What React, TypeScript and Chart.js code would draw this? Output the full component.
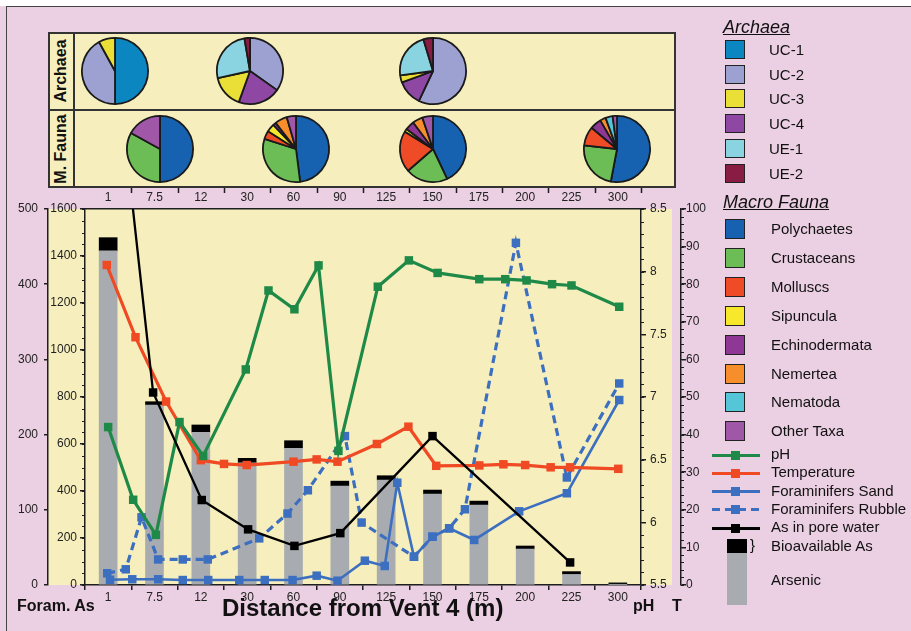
import React, { useEffect, useRef } from 'react';
import { Chart, registerables } from 'chart.js';

Chart.register(...registerables);

// ---------------- data ----------------
const categories = ['1', '7.5', '12', '30', '60', '90', '125', '150', '175', '200', '225', '300'];

// Arsenic in sediment (inner left axis, 0-1600); bioavailable part stacked on top
const arsenicValues = [1422, 766, 650, 520, 582, 421, 447, 387, 340, 153, 45, 2];
const bioavailableAs = [56, 14, 31, 19, 32, 21, 18, 17, 17, 13, 12, 7];

// positions along the distance axis, in category units (category i is centred on i + 0.5)
const phX = [0.5, 1.04, 1.53, 2.04, 2.55, 3.47, 3.96, 4.52, 5.04, 5.47, 6.32, 6.99, 7.61, 8.51, 9.07, 9.53, 10.08, 10.5, 11.53];
const phValues = [6.76, 6.18, 5.9, 6.8, 6.53, 7.22, 7.85, 7.7, 8.05, 6.57, 7.88, 8.09, 7.99, 7.94, 7.94, 7.93, 7.9, 7.89, 7.72];

const tempX = [0.47, 1.09, 1.75, 2.5, 3.0, 3.49, 4.5, 5.0, 5.45, 6.3, 6.98, 7.58, 8.51, 9.03, 9.5, 10.05, 10.47, 11.51];
const tempValues = [85.1, 65.9, 48.8, 33.2, 32.2, 31.9, 32.8, 33.4, 32.8, 37.5, 42.1, 31.7, 31.8, 32.1, 31.9, 31.3, 31.3, 30.9];

const sandX = [0.54, 1.02, 1.58, 2.11, 2.66, 3.33, 3.88, 4.48, 5.0, 5.45, 6.04, 6.47, 6.74, 7.1, 7.5, 7.86, 8.4, 9.37, 10.4, 11.53];
const sandValues = [7, 7.6, 7.6, 6.6, 6.6, 6.6, 6.6, 6.6, 12.4, 5.7, 32.3, 25.3, 136, 37.6, 64.2, 75.4, 59.9, 98, 122, 246];

const rubbleX = [0.48, 0.88, 1.22, 1.58, 2.11, 2.65, 3.76, 4.37, 4.81, 5.61, 5.97, 7.1, 7.5, 7.86, 8.2, 9.3, 10.4, 11.53];
const rubbleValues = [15.6, 20.9, 90, 34, 34, 34, 62, 95, 126, 198, 83, 37.6, 64.2, 75.4, 100.7, 455, 143, 268];

const poreX = [0.5, 1.47, 2.52, 3.52, 4.52, 5.51, 7.5, 10.47];
const poreValues = [800, 256, 113, 74, 52, 69, 198, 30];

// Pie data
const archaeaLabels = ['UC-1', 'UC-2', 'UC-3', 'UC-4', 'UE-1', 'UE-2'];
const archaeaColors = ['#0b86c1', '#9da1d2', '#e9df36', '#8e47a3', '#8ad3e0', '#881c42'];
const archaeaPieOrder = [0, 1, 3, 2, 4, 5];
const archaeaSites = ['1', '30', '150'];
const archaeaAt1 = [50, 42, 8, 0, 0, 0];
const archaeaAt30 = [0, 34.8, 16, 20.7, 25.8, 2.7];
const archaeaAt150 = [0, 57, 3.5, 12.4, 22.4, 4.7];

const faunaLabels = ['Polychaetes', 'Crustaceans', 'Molluscs', 'Sipuncula', 'Echinodermata', 'Nemertea', 'Nematoda', 'Other Taxa'];
const faunaColors = ['#1762b0', '#6cbd55', '#ef4b26', '#f8e82c', '#8f3795', '#f68e2c', '#55c6d8', '#a057a8'];
const faunaSites = ['7.5', '60', '150', '300'];
const faunaAt7_5 = [50, 33, 0, 0, 0, 0, 0, 17];
const faunaAt60 = [48, 32, 4, 4, 1.5, 6, 0, 4.5];
const faunaAt150 = [43, 20.6, 20.2, 1.5, 4.5, 5, 0, 5.2];
const faunaAt300 = [53, 23.7, 9.4, 0, 5.5, 2.8, 3.5, 2.1];

// ---------------- style ----------------
const FONT = '"Liberation Sans", Arial, Helvetica, sans-serif';
const PINK = '#ebcfe3';
const YELLOW = '#f6efbd';
const AX = '#1e1e1e';
const GREEN = '#1f8a47';
const RED = '#ef4a24';
const BLUE = '#3c6fbf';
const GRAY = '#a8acb0';

const toPts = (xs: number[], ys: number[]) => xs.map((x, i) => ({ x, y: ys[i] }));

const framePlugin = {
  id: 'frame',
  beforeDraw(chart: any) {
    const { ctx, chartArea, scales } = chart;
    ctx.save();
    ctx.fillStyle = YELLOW;
    const left = scales.yF.right;
    ctx.fillRect(left, chartArea.top, chartArea.right + 31 - left, chartArea.bottom - chartArea.top);
    ctx.restore();
  },
  afterDraw(chart: any) {
    const { ctx, chartArea, scales } = chart;
    ctx.save();
    ctx.strokeStyle = AX;
    ctx.lineWidth = 1.2;
    ctx.beginPath();
    const minor = (scale: any, from: number, to: number, step: number, side: string, len: number) => {
      const n = Math.round((to - from) / step);
      for (let k = 0; k <= n; k++) {
        const v = from + k * step;
        const y = Math.round(scale.getPixelForValue(v)) + 0.5;
        const x0 = side === 'left' ? scale.right : scale.left;
        const x1 = side === 'left' ? x0 - len : x0 + len;
        ctx.moveTo(x0, y);
        ctx.lineTo(x1, y);
      }
    };
    minor(scales.yAs, 0, 1600, 50, 'left', 3);
    minor(scales.yPH, 5.5, 8.5, 0.1, 'right', 3);
    minor(scales.yT, 0, 100, 2, 'right', 3);
    ctx.stroke();
    // ticks at the top of the category band
    ctx.beginPath();
    ctx.lineWidth = 1.5;
    for (let i = 1; i <= categories.length; i++) {
      const x = Math.round(scales.x.getPixelForValue(i)) + 0.5;
      ctx.moveTo(x, chartArea.top - 21);
      ctx.lineTo(x, chartArea.top - 16);
    }
    ctx.stroke();
    ctx.restore();
  },
};

const tickFont = { family: FONT, size: 12 };

function lineDs(label: string, pts: any[], color: string, yAxisID: string, extra: any = {}) {
  return {
    type: 'line',
    label,
    data: pts,
    yAxisID,
    xAxisID: 'x',
    borderColor: color,
    backgroundColor: color,
    borderWidth: 3.2,
    pointStyle: 'rect',
    pointRadius: 6,
    pointBorderWidth: 0,
    tension: 0,
    fill: false,
    ...extra,
  };
}

function Pie({ values, colors, order, cx, cy }: { values: number[]; colors: string[]; order: number[]; cx: number; cy: number }) {
  const ref = useRef<HTMLCanvasElement>(null);
  useEffect(() => {
    const idx = order.filter((i) => values[i] > 0);
    const chart = new Chart(ref.current as HTMLCanvasElement, {
      type: 'pie',
      data: {
        labels: idx.map((i) => String(i)),
        datasets: [
          {
            data: idx.map((i) => values[i]),
            backgroundColor: idx.map((i) => colors[i]),
            borderColor: '#1a1a1a',
            borderWidth: 1.8,
          },
        ],
      },
      options: {
        responsive: false,
        animation: false,
        events: [],
        layout: { padding: 1 },
        plugins: { legend: { display: false }, tooltip: { enabled: false } },
      } as any,
    });
    return () => chart.destroy();
  }, []);
  return (
    <canvas
      ref={ref}
      width={70}
      height={70}
      style={{ position: 'absolute', left: cx - 35, top: cy - 35, width: 70, height: 70 }}
    />
  );
}

// layout: category centre in page pixels (plot spans 85..641)
const catCenter = (name: string) => 85 + (categories.indexOf(name) + 0.5) * (556 / 12);

export default function App() {
  const ref = useRef<HTMLCanvasElement>(null);
  useEffect(() => {
    const barPts = (vals: number[]) => vals.map((v, i) => ({ x: i + 0.5, y: v }));
    const chart = new Chart(ref.current as HTMLCanvasElement, {
      type: 'line',
      data: {
        datasets: [
          lineDs('pH', toPts(phX, phValues), GREEN, 'yPH', { order: 1 }),
          lineDs('Temperature', toPts(tempX, tempValues), RED, 'yT', { order: 2 }),
          lineDs('Foraminifers Sand', toPts(sandX, sandValues), BLUE, 'yF', { order: 3, borderWidth: 2.6 }),
          lineDs('Foraminifers Rubble', toPts(rubbleX, rubbleValues), BLUE, 'yF', { order: 4, borderDash: [8, 5] }),
          lineDs('As in pore water', toPts(poreX, poreValues), '#000', 'yF', { order: 0, borderWidth: 2.3 }),
          {
            type: 'bar',
            label: 'Arsenic',
            data: barPts(arsenicValues),
            yAxisID: 'yAs',
            xAxisID: 'x',
            stack: 'as',
            backgroundColor: GRAY,
            barThickness: 18,
            order: 10,
          },
          {
            type: 'bar',
            label: 'Bioavailable As',
            data: barPts(bioavailableAs),
            yAxisID: 'yAs',
            xAxisID: 'x',
            stack: 'as',
            backgroundColor: '#000',
            barThickness: 18,
            order: 11,
          },
        ],
      } as any,
      options: {
        responsive: false,
        animation: false,
        events: [],
        layout: { padding: { left: 8, right: 190, top: 190, bottom: 26 } },
        plugins: { legend: { display: false }, tooltip: { enabled: false } },
        scales: {
          x: {
            type: 'linear',
            position: 'bottom',
            min: 0,
            max: 12,
            offset: false,
            afterBuildTicks: (s: any) => {
              s.ticks = categories.map((_, i) => ({ value: i + 0.5 }));
            },
            afterFit: (s: any) => {
              s.height = 20;
            },
            ticks: {
              callback: (v: any) => categories[Math.round(Number(v) - 0.5)],
              font: tickFont,
              color: '#222',
              padding: 0,
              maxRotation: 0,
              autoSkip: false,
            },
            grid: { drawOnChartArea: false, offset: true, tickLength: 5, color: AX, lineWidth: 1.5 },
            border: { display: true, color: AX, width: 1.5 },
          },
          x2: {
            type: 'linear',
            position: 'top',
            min: 0,
            max: 12,
            offset: false,
            afterBuildTicks: (s: any) => {
              s.ticks = categories.map((_, i) => ({ value: i + 0.5 }));
            },
            afterFit: (s: any) => {
              s.height = 19;
            },
            ticks: {
              callback: (v: any) => categories[Math.round(Number(v) - 0.5)],
              font: tickFont,
              color: '#222',
              padding: 4,
              maxRotation: 0,
              autoSkip: false,
            },
            grid: { display: false, drawTicks: false },
            border: { display: true, color: AX, width: 1.5 },
          },
          yF: {
            type: 'linear',
            position: 'left',
            weight: 1,
            min: 0,
            max: 500,
            afterFit: (s: any) => {
              s.width = 40;
            },
            ticks: { stepSize: 100, padding: 6, font: tickFont, color: '#222', callback: (v: any) => String(v) },
            grid: { drawOnChartArea: false, tickLength: 4, color: AX, lineWidth: 1.5 },
            border: { display: true, color: AX, width: 1.5 },
          },
          yAs: {
            type: 'linear',
            position: 'left',
            weight: 0,
            min: 0,
            max: 1600,
            stacked: true,
            afterFit: (s: any) => {
              s.width = 37;
            },
            ticks: { stepSize: 200, padding: 3, font: tickFont, color: '#222', callback: (v: any) => String(v) },
            grid: { drawOnChartArea: false, tickLength: 5, color: AX, lineWidth: 1.5 },
            border: { display: true, color: AX, width: 1.5 },
          },
          yPH: {
            type: 'linear',
            position: 'right',
            weight: 0,
            min: 5.5,
            max: 8.5,
            afterFit: (s: any) => {
              s.width = 40;
            },
            ticks: { stepSize: 0.5, padding: 4, font: tickFont, color: '#222', callback: (v: any) => String(Math.round(v * 10) / 10) },
            grid: { drawOnChartArea: false, tickLength: 5, color: AX, lineWidth: 1.5 },
            border: { display: true, color: AX, width: 1.5 },
          },
          yT: {
            type: 'linear',
            position: 'right',
            weight: 1,
            min: 0,
            max: 100,
            afterFit: (s: any) => {
              s.width = 40;
            },
            ticks: { stepSize: 10, padding: 0, font: tickFont, color: '#222', callback: (v: any) => String(v) },
            grid: { drawOnChartArea: false, tickLength: 5, color: AX, lineWidth: 1.5 },
            border: { display: true, color: AX, width: 1.5 },
          },
        },
      } as any,
      plugins: [framePlugin],
    });
    return () => chart.destroy();
  }, []);

  const archaeaData = [archaeaAt1, archaeaAt30, archaeaAt150];
  const archaeaNudge = [7, 3, 0];
  const faunaData = [faunaAt7_5, faunaAt60, faunaAt150, faunaAt300];
  const faunaNudge = [5, 2, 0, -1];

  const legendText: React.CSSProperties = { position: 'absolute', fontSize: 15, lineHeight: '20px', color: '#111', whiteSpace: 'nowrap' };
  const archaeaRowY = (k: number) => 50 + k * 24.7;
  const faunaRowY = (k: number) => 229 + k * 28.9;
  const lineRows = [
    { label: 'pH', color: GREEN, dashed: false },
    { label: 'Temperature', color: RED, dashed: false },
    { label: 'Foraminifers Sand', color: BLUE, dashed: false },
    { label: 'Foraminifers Rubble', color: BLUE, dashed: true },
    { label: 'As in pore water', color: '#000', dashed: false },
  ];
  const lineRowY = (k: number) => 455 + k * 18.3;

  return (
    <div
      style={{
        position: 'absolute',
        left: 0,
        top: 0,
        width: 911,
        height: 631,
        background: PINK,
        overflow: 'hidden',
        fontFamily: FONT,
      }}
    >
      <div style={{ position: 'absolute', left: 0, top: 0, width: 911, height: 6, background: '#fff' }} />
      <div
        style={{
          position: 'absolute',
          left: 6,
          top: 6,
          right: -10,
          bottom: -10,
          borderTop: '1.5px solid #444',
          borderLeft: '1.5px solid #444',
        }}
      />
      <canvas ref={ref} width={911} height={631} style={{ position: 'absolute', left: 0, top: 0, width: 911, height: 631 }} />

      {/* pie panel */}
      <div
        style={{
          position: 'absolute',
          left: 48,
          top: 32,
          width: 628,
          height: 156,
          background: YELLOW,
          border: '2px solid #333',
          boxSizing: 'border-box',
        }}
      />
      <div style={{ position: 'absolute', left: 48, top: 109, width: 628, height: 2, background: '#333' }} />
      <div style={{ position: 'absolute', left: 73, top: 32, width: 2, height: 156, background: '#333' }} />
      <div
        style={{
          position: 'absolute',
          left: 61,
          top: 71,
          transform: 'translate(-50%, -50%) rotate(-90deg)',
          fontWeight: 'bold',
          fontSize: 16,
          whiteSpace: 'nowrap',
          color: '#111',
        }}
      >
        Archaea
      </div>
      <div
        style={{
          position: 'absolute',
          left: 61,
          top: 149,
          transform: 'translate(-50%, -50%) rotate(-90deg)',
          fontWeight: 'bold',
          fontSize: 16,
          whiteSpace: 'nowrap',
          color: '#111',
        }}
      >
        M. Fauna
      </div>
      {archaeaSites.map((s, k) => (
        <Pie key={'a' + s} values={archaeaData[k]} colors={archaeaColors} order={archaeaPieOrder} cx={catCenter(s) + archaeaNudge[k]} cy={71} />
      ))}
      {faunaSites.map((s, k) => (
        <Pie key={'f' + s} values={faunaData[k]} colors={faunaColors} order={faunaLabels.map((_, i) => i)} cx={catCenter(s) + faunaNudge[k]} cy={149} />
      ))}

      {/* legend */}
      <div style={{ position: 'absolute', left: 723, top: 16, fontSize: 18, fontStyle: 'italic', textDecoration: 'underline', lineHeight: '22px', color: '#111' }}>Archaea</div>
      {archaeaLabels.map((l, k) => (
        <React.Fragment key={l}>
          <div
            style={{
              position: 'absolute',
              left: 725,
              top: archaeaRowY(k) - 10,
              width: 20,
              height: 19,
              background: archaeaColors[k],
              border: '1.5px solid #222',
              boxSizing: 'border-box',
            }}
          />
          <div style={{ ...legendText, left: 769, top: archaeaRowY(k) - 10 }}>{l}</div>
        </React.Fragment>
      ))}
      <div style={{ position: 'absolute', left: 723, top: 191, fontSize: 18, fontStyle: 'italic', textDecoration: 'underline', lineHeight: '22px', color: '#111' }}>Macro Fauna</div>
      {faunaLabels.map((l, k) => (
        <React.Fragment key={l}>
          <div
            style={{
              position: 'absolute',
              left: 725,
              top: faunaRowY(k) - 10,
              width: 20,
              height: 20,
              background: faunaColors[k],
              border: '1.5px solid #222',
              boxSizing: 'border-box',
            }}
          />
          <div style={{ ...legendText, left: 771, top: faunaRowY(k) - 10 }}>{l}</div>
        </React.Fragment>
      ))}
      {lineRows.map((r, k) => (
        <React.Fragment key={r.label}>
          <div
            style={{
              position: 'absolute',
              left: 712,
              top: lineRowY(k) - 1.5,
              width: 48,
              height: 3,
              background: r.dashed ? `repeating-linear-gradient(to right, ${r.color} 0 8px, transparent 8px 13px)` : r.color,
            }}
          />
          <div style={{ position: 'absolute', left: 731, top: lineRowY(k) - 4.5, width: 9, height: 9, background: r.color }} />
          <div style={{ ...legendText, left: 771, top: lineRowY(k) - 11 }}>{r.label}</div>
        </React.Fragment>
      ))}
      <div style={{ position: 'absolute', left: 727, top: 539, width: 20, height: 14, background: '#000' }} />
      <div style={{ position: 'absolute', left: 727, top: 553, width: 20, height: 52, background: GRAY }} />
      <div style={{ ...legendText, left: 750, top: 535 }}>{'}'}</div>
      <div style={{ ...legendText, left: 771, top: 536 }}>Bioavailable As</div>
      <div style={{ ...legendText, left: 771, top: 570 }}>Arsenic</div>

      {/* axis titles */}
      <div style={{ position: 'absolute', left: 17, top: 596, fontSize: 16, fontWeight: 'bold', lineHeight: '20px', color: '#111', whiteSpace: 'nowrap' }}>Foram. As</div>
      <div style={{ position: 'absolute', left: 222, top: 594, fontSize: 24, fontWeight: 'bold', lineHeight: '28px', color: '#111', whiteSpace: 'nowrap' }}>
        Distance from Vent 4 (m)
      </div>
      <div style={{ position: 'absolute', left: 633, top: 596, fontSize: 16, fontWeight: 'bold', lineHeight: '20px', color: '#111' }}>pH</div>
      <div style={{ position: 'absolute', left: 672, top: 596, fontSize: 16, fontWeight: 'bold', lineHeight: '20px', color: '#111' }}>T</div>
    </div>
  );
}
